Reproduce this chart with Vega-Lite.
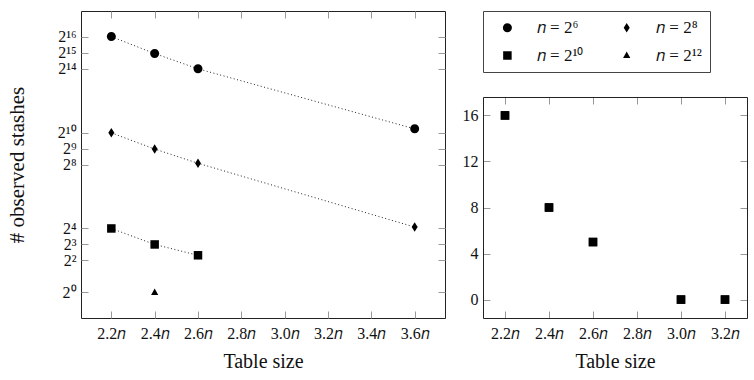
{
  "$schema": "https://vega.github.io/schema/vega-lite/v6.json",
  "padding": {"left": 5, "top": 10, "right": 5, "bottom": 5},
  "background": "white",
  "config": {
    "font": "Liberation Serif",
    "view": {"stroke": "#222", "strokeWidth": 1},
    "axis": {
      "domain": false,
      "grid": false,
      "tickColor": "#999",
      "tickSize": -7,
      "tickWidth": 1,
      "labelFont": "Liberation Serif",
      "labelFontSize": 16,
      "labelColor": "#111",
      "labelOverlap": false,
      "labelFlush": false,
      "labelBound": false,
      "titleFont": "Liberation Serif",
      "titleFontSize": 20,
      "titleFontWeight": "normal",
      "titleColor": "#111"
    }
  },
  "datasets": {
    "stashes": [
      {"size": 2.2, "series": "n = 2⁶", "stashes": 65536},
      {"size": 2.4, "series": "n = 2⁶", "stashes": 31400},
      {"size": 2.6, "series": "n = 2⁶", "stashes": 16200},
      {"size": 3.6, "series": "n = 2⁶", "stashes": 1200},
      {"size": 2.2, "series": "n = 2⁸", "stashes": 1010},
      {"size": 2.4, "series": "n = 2⁸", "stashes": 500},
      {"size": 2.6, "series": "n = 2⁸", "stashes": 270},
      {"size": 3.6, "series": "n = 2⁸", "stashes": 17},
      {"size": 2.2, "series": "n = 2¹⁰", "stashes": 16},
      {"size": 2.4, "series": "n = 2¹⁰", "stashes": 8},
      {"size": 2.6, "series": "n = 2¹⁰", "stashes": 5},
      {"size": 2.4, "series": "n = 2¹²", "stashes": 1}
    ],
    "stashesLinear": [
      {"size": 2.2, "series": "n = 2¹⁰", "stashes": 16},
      {"size": 2.4, "series": "n = 2¹⁰", "stashes": 8},
      {"size": 2.6, "series": "n = 2¹⁰", "stashes": 5},
      {"size": 3.0, "series": "n = 2¹⁰", "stashes": 0},
      {"size": 3.2, "series": "n = 2¹⁰", "stashes": 0}
    ]
  },
  "spacing": 16,
  "resolve": {"scale": {"shape": "independent"}, "legend": {"shape": "independent"}},
  "hconcat": [
    {
      "width": 364,
      "height": 307,
      "data": {"name": "stashes"},
      "layer": [
        {
          "mark": {"type": "line", "strokeDash": [1, 2.5], "strokeWidth": 1, "color": "#222"},
          "encoding": {
            "detail": {"field": "series"},
            "x": {
              "field": "size", "type": "quantitative",
              "scale": {"domain": [2.06, 3.74], "nice": false, "zero": false},
              "axis": {
                "orient": "bottom",
                "values": [2.2, 2.4, 2.6, 2.8, 3.0, 3.2, 3.4, 3.6],
                "labelExpr": "format(datum.value, '.1f') + '𝑛'",
                "labelPadding": 14,
                "title": "Table size",
                "titlePadding": 10
              }
            },
            "y": {
              "field": "stashes", "type": "quantitative",
              "scale": {"type": "log", "base": 2, "domain": [0.3299, 198668], "nice": false},
              "axis": {
                "orient": "left",
                "values": [1, 4, 8, 16, 256, 512, 1024, 16384, 32768, 65536],
                "labelExpr": "datum.value == 1 ? '2⁰' : datum.value == 4 ? '2²' : datum.value == 8 ? '2³' : datum.value == 16 ? '2⁴' : datum.value == 256 ? '2⁸' : datum.value == 512 ? '2⁹' : datum.value == 1024 ? '2¹⁰' : datum.value == 16384 ? '2¹⁴' : datum.value == 32768 ? '2¹⁵' : '2¹⁶'",
                "labelPadding": 12,
                "title": "# observed stashes",
                "titleFontSize": 21,
                "titlePadding": 30
              }
            }
          }
        },
        {
          "mark": {"type": "point", "filled": true, "size": 100, "opacity": 1, "color": "#000"},
          "encoding": {
            "shape": {
              "field": "series", "type": "nominal",
              "scale": {
                "domain": ["n = 2⁶", "n = 2⁸", "n = 2¹⁰", "n = 2¹²"],
                "range": [
                  "M0.9,0A0.9,0.9,0,1,1,-0.9,0A0.9,0.9,0,1,1,0.9,0Z",
                  "M0,-0.95L0.6,0L0,0.95L-0.6,0Z",
                  "M-0.85,-0.85H0.85V0.85H-0.85Z",
                  "M0,-0.78L0.72,0.5L-0.72,0.5Z"
                ]
              },
              "legend": null
            },
            "x": {
              "field": "size", "type": "quantitative",
              "axis": {"orient": "top", "values": [2.2, 2.4, 2.6, 2.8, 3.0, 3.2, 3.4, 3.6], "labels": false, "title": null}
            },
            "y": {
              "field": "stashes", "type": "quantitative",
              "axis": {"orient": "right", "values": [1, 4, 8, 16, 256, 512, 1024, 16384, 32768, 65536], "labels": false, "title": null}
            }
          }
        }
      ],
      "resolve": {"axis": {"x": "independent", "y": "independent"}}
    },
    {
      "width": 264,
      "height": 307,
      "view": {"stroke": null},
      "data": {"name": "stashesLinear"},
      "layer": [
        {
          "mark": {"type": "point", "filled": true, "size": 100, "opacity": 1, "color": "#000"},
          "encoding": {
            "shape": {
              "field": "series", "type": "nominal",
              "scale": {
                "domain": ["n = 2⁶", "n = 2⁸", "n = 2¹⁰", "n = 2¹²"],
                "range": [
                  "M0.9,0A0.9,0.9,0,1,1,-0.9,0A0.9,0.9,0,1,1,0.9,0Z",
                  "M0,-0.95L0.6,0L0,0.95L-0.6,0Z",
                  "M-0.85,-0.85H0.85V0.85H-0.85Z",
                  "M0,-0.78L0.72,0.5L-0.72,0.5Z"
                ]
              },
              "legend": {
                "orient": "none",
                "legendX": 0,
                "legendY": 0,
                "title": null,
                "direction": "horizontal",
                "columns": 2,
                "columnPadding": 26.3,
                "rowPadding": 10,
                "padding": 8,
                "strokeColor": "#444",
                "fillColor": "#fff",
                "symbolSize": 100,
                "symbolOffset": 7.9,
                "symbolFillColor": "#000",
                "symbolStrokeColor": "#000",
                "labelOffset": 20.9,
                "labelFontSize": 17,
                "labelColor": "#111",
                "labelExpr": "replace(replace(datum.label, 'n', '𝑛'), ' = ', ' = ') + (datum.value == 'n = 2⁸' || datum.value == 'n = 2¹²' ? ' ' : '')"
              }
            },
            "x": {
              "field": "size", "type": "quantitative",
              "scale": {"domain": [2.1, 3.3], "nice": false, "zero": false},
              "axis": {
                "orient": "bottom",
                "values": [2.2, 2.4, 2.6, 2.8, 3.0, 3.2],
                "labelExpr": "format(datum.value, '.1f') + '𝑛'",
                "labelPadding": 14,
                "domain": true,
                "domainColor": "#222",
                "domainWidth": 1,
                "title": "Table size",
                "titlePadding": 10
              }
            },
            "y": {
              "field": "stashes", "type": "quantitative",
              "scale": {"domain": [-1.6, 17.6], "range": [307, 86], "nice": false, "zero": false},
              "axis": {
                "orient": "left",
                "values": [0, 4, 8, 12, 16],
                "labelPadding": 12,
                "domain": true,
                "domainColor": "#222",
                "domainWidth": 1,
                "title": null
              }
            }
          }
        },
        {
          "mark": {"type": "point", "filled": true, "size": 100, "opacity": 1, "color": "#000"},
          "encoding": {
            "shape": {"field": "series", "type": "nominal", "legend": null},
            "x": {
              "field": "size", "type": "quantitative",
              "axis": {"orient": "top", "offset": -86, "values": [2.2, 2.4, 2.6, 2.8, 3.0, 3.2], "labels": false, "title": null, "domain": true, "domainColor": "#222", "domainWidth": 1}
            },
            "y": {
              "field": "stashes", "type": "quantitative",
              "axis": {"orient": "right", "values": [0, 4, 8, 12, 16], "labels": false, "title": null, "domain": true, "domainColor": "#222", "domainWidth": 1}
            }
          }
        }
      ],
      "resolve": {"axis": {"x": "independent", "y": "independent"}}
    }
  ]
}
